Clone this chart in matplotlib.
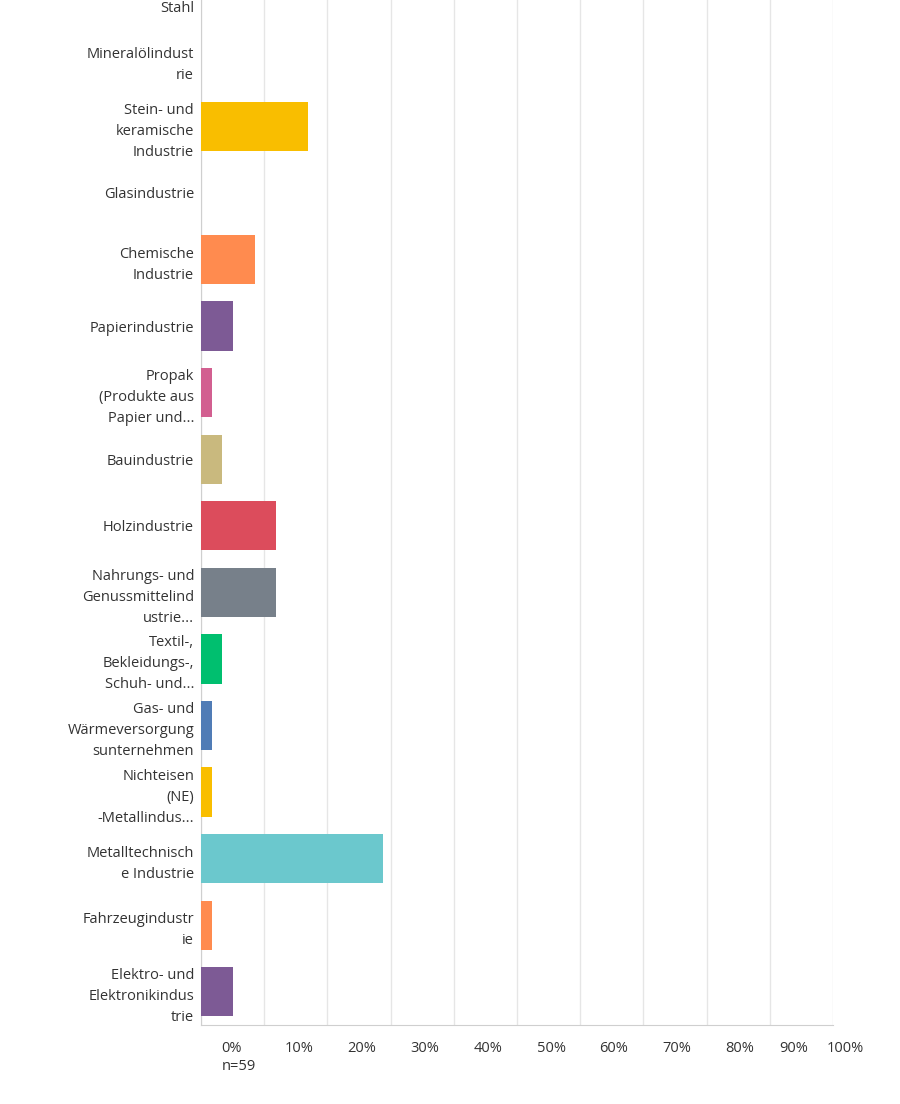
import matplotlib.pyplot as plt

# categories top -> bottom, values in percent (n=59)
categories = [
    "Eisen und\nStahl",
    "Mineralölindust\nrie",
    "Stein- und\nkeramische\nIndustrie",
    "Glasindustrie",
    "Chemische\nIndustrie",
    "Papierindustrie",
    "Propak\n(Produkte aus\nPapier und...",
    "Bauindustrie",
    "Holzindustrie",
    "Nahrungs- und\nGenussmittelind\nustrie...",
    "Textil-,\nBekleidungs-,\nSchuh- und...",
    "Gas- und\nWärmeversorgung\nsunternehmen",
    "Nichteisen\n(NE)\n-Metallindus...",
    "Metalltechnisch\ne Industrie",
    "Fahrzeugindustr\nie",
    "Elektro- und\nElektronikindus\ntrie",
]
values = [0.0, 0.0, 16.95, 0.0, 8.47, 5.08, 1.69, 3.39, 11.86, 11.86,
          3.39, 1.69, 1.69, 28.81, 1.69, 5.08]

tick_values = [0, 10, 20, 30, 40, 50, 60, 70, 80, 90, 100]
tick_text = ["0%", "10%", "20%", "30%", "40%", "50%", "60%", "70%", "80%", "90%", "100%"]
# where the exported labels actually sit (shifted from the gridlines)
tick_label_pos = [4.9, 15.5, 25.5, 35.4, 45.4, 55.4, 65.3, 75.3, 85.3, 93.8, 101.9]

palette = ["#00BF6F", "#507CB6", "#F9BE00", "#6BC8CD", "#FF8B4F",
           "#7D5A95", "#D25F90", "#C9B97E", "#DC4C5C", "#77808A"]
colors = [palette[i % len(palette)] for i in range(len(categories))]

plt.rcParams['font.family'] = ['Open Sans', 'DejaVu Sans']

fig = plt.figure(figsize=(9, 11.04), dpi=100)
ax = fig.add_axes([201 / 900, 1 - 1025 / 1104, 632 / 900, 1065 / 1104])

ypos = list(range(len(categories)))
ax.barh(ypos, values, height=0.74, color=colors, zorder=3)

ax.set_ylim(len(categories) - 0.5, -0.5)
ax.set_xlim(0, 100)
ax.set_yticks(ypos)
ax.set_yticklabels(categories, fontsize=10.5, color="#333333", linespacing=1.55)
ax.tick_params(axis='y', length=0, pad=5)

ax.set_xticks(tick_values)
ax.set_xticklabels([])
ax.tick_params(axis='x', length=0)
ax.xaxis.grid(True, color="#e6e6e6", linewidth=1, zorder=0)

for pos, txt in zip(tick_label_pos, tick_text):
    ax.text(pos, -0.015, txt, transform=ax.get_xaxis_transform(),
            ha='center', va='top', fontsize=10.5, color="#333333")
ax.text(3.3, -0.032, "n=59", transform=ax.get_xaxis_transform(),
        ha='left', va='top', fontsize=10.5, color="#333333")

for side in ['top', 'right']:
    ax.spines[side].set_visible(False)
ax.spines['left'].set_color("#cfcfcf")
ax.spines['bottom'].set_color("#cfcfcf")

fig.savefig("out.png", dpi=100)
